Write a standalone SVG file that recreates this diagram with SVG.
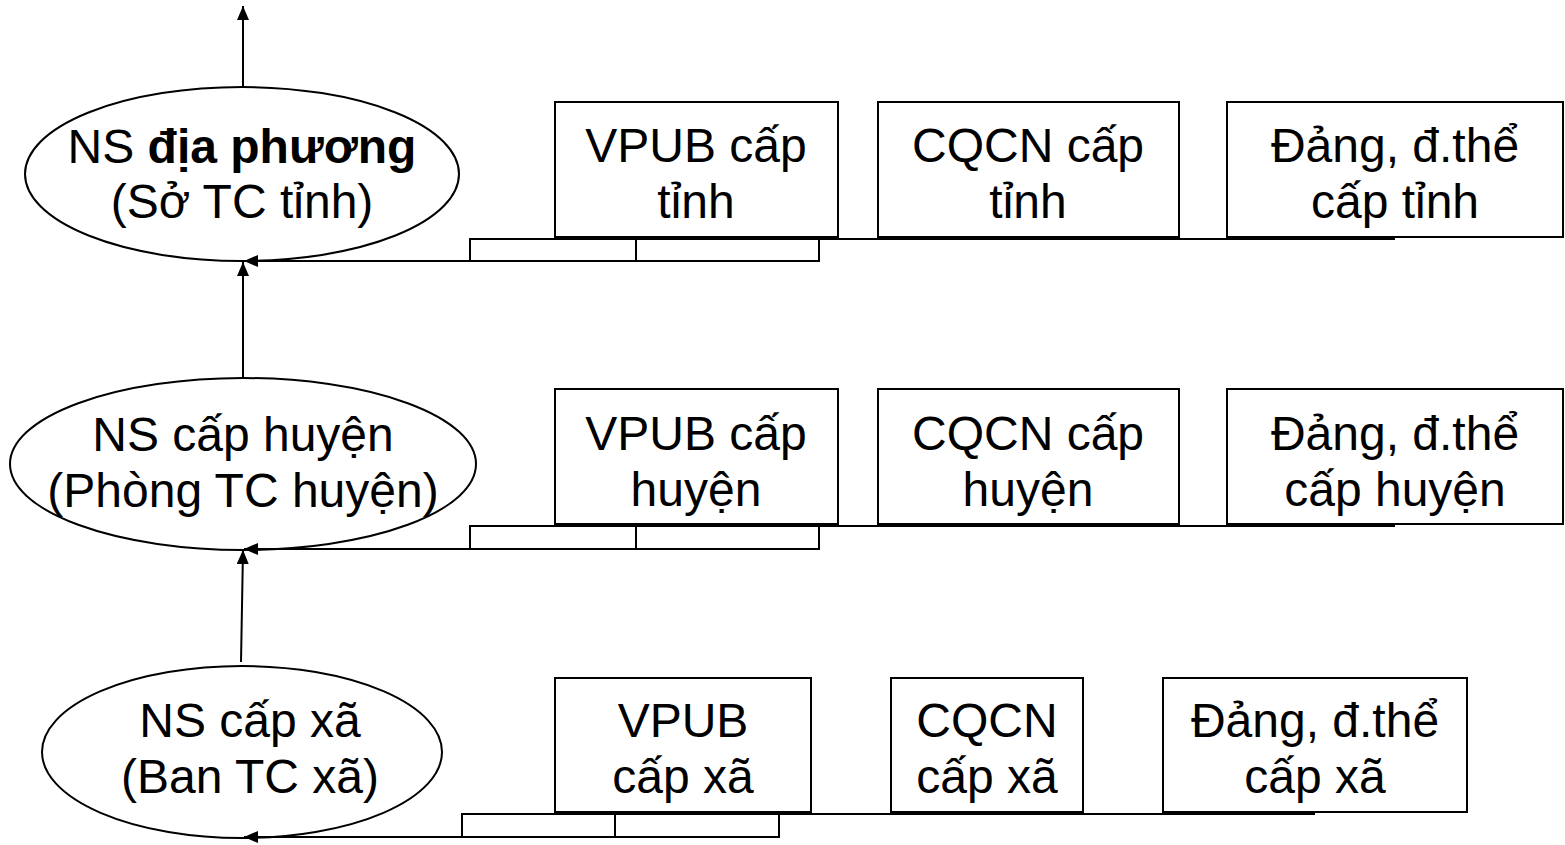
<svg xmlns="http://www.w3.org/2000/svg" width="1565" height="845" viewBox="0 0 1565 845">
<style>
.n{fill:#fff;stroke:#000;stroke-width:2}
.t{font-family:"Liberation Sans",Arial,sans-serif;font-size:48px;fill:#000;text-anchor:middle}
.c{fill:none;stroke:#000;stroke-width:2}
</style>
<defs>
<marker id="ah" viewBox="0 0 14 12" refX="14" refY="6" markerWidth="14" markerHeight="12" markerUnits="userSpaceOnUse" orient="auto">
<path d="M0,0 L14,6 L0,12 z" fill="#000"/>
</marker>
</defs>
<rect width="1565" height="845" fill="#fff"/>
<g id="connectors">
<line class="c" x1="243" y1="86" x2="243" y2="6" marker-end="url(#ah)"/>
<line class="c" x1="243" y1="378" x2="243" y2="262" marker-end="url(#ah)"/>
<line class="c" x1="241" y1="662" x2="243" y2="550" marker-end="url(#ah)"/>
<line class="c" x1="470" y1="239" x2="1395" y2="239"/>
<rect class="c" x="470" y="239" width="349" height="22"/>
<line class="c" x1="636" y1="239" x2="636" y2="261"/>
<line class="c" x1="470" y1="261" x2="244" y2="261" marker-end="url(#ah)"/>
<line class="c" x1="470" y1="526" x2="1395" y2="526"/>
<rect class="c" x="470" y="526" width="349" height="23"/>
<line class="c" x1="636" y1="526" x2="636" y2="549"/>
<line class="c" x1="470" y1="549" x2="244" y2="549" marker-end="url(#ah)"/>
<line class="c" x1="462" y1="814" x2="1315" y2="814"/>
<rect class="c" x="462" y="814" width="317" height="23"/>
<line class="c" x1="615" y1="814" x2="615" y2="837"/>
<line class="c" x1="462" y1="837" x2="244" y2="837" marker-end="url(#ah)"/>
</g>
<g id="ns-tinh">
<ellipse class="c" cx="242" cy="174" rx="217" ry="87"/>
<text class="t" x="242" y="163">NS <tspan font-weight="bold">địa phương</tspan></text>
<text class="t" x="242" y="218">(Sở TC tỉnh)</text>
</g>
<g id="ns-huyen">
<ellipse class="c" cx="243" cy="464" rx="233" ry="86"/>
<text class="t" x="243" y="451">NS cấp huyện</text>
<text class="t" x="243" y="507">(Phòng TC huyện)</text>
</g>
<g id="ns-xa">
<ellipse class="c" cx="242" cy="752" rx="200" ry="86"/>
<text class="t" x="250" y="737">NS cấp xã</text>
<text class="t" x="250" y="793">(Ban TC xã)</text>
</g>
<g id="vpub-tinh"><rect class="n" x="555" y="102" width="283" height="135"/>
<text class="t" x="696" y="162">VPUB cấp</text><text class="t" x="696" y="218">tỉnh</text></g>
<g id="cqcn-tinh"><rect class="n" x="878" y="102" width="301" height="135"/>
<text class="t" x="1028" y="162">CQCN cấp</text><text class="t" x="1028" y="218">tỉnh</text></g>
<g id="dang-tinh"><rect class="n" x="1227" y="102" width="336" height="135"/>
<text class="t" x="1395" y="162">Đảng, đ.thể</text><text class="t" x="1395" y="218">cấp tỉnh</text></g>
<g id="vpub-huyen"><rect class="n" x="555" y="389" width="283" height="135"/>
<text class="t" x="696" y="450">VPUB cấp</text><text class="t" x="696" y="506">huyện</text></g>
<g id="cqcn-huyen"><rect class="n" x="878" y="389" width="301" height="135"/>
<text class="t" x="1028" y="450">CQCN cấp</text><text class="t" x="1028" y="506">huyện</text></g>
<g id="dang-huyen"><rect class="n" x="1227" y="389" width="336" height="135"/>
<text class="t" x="1395" y="450">Đảng, đ.thể</text><text class="t" x="1395" y="506">cấp huyện</text></g>
<g id="vpub-xa"><rect class="n" x="555" y="678" width="256" height="134"/>
<text class="t" x="683" y="737">VPUB</text><text class="t" x="683" y="793">cấp xã</text></g>
<g id="cqcn-xa"><rect class="n" x="891" y="678" width="192" height="134"/>
<text class="t" x="987" y="737">CQCN</text><text class="t" x="987" y="793">cấp xã</text></g>
<g id="dang-xa"><rect class="n" x="1163" y="678" width="304" height="134"/>
<text class="t" x="1315" y="737">Đảng, đ.thể</text><text class="t" x="1315" y="793">cấp xã</text></g>
</svg>
